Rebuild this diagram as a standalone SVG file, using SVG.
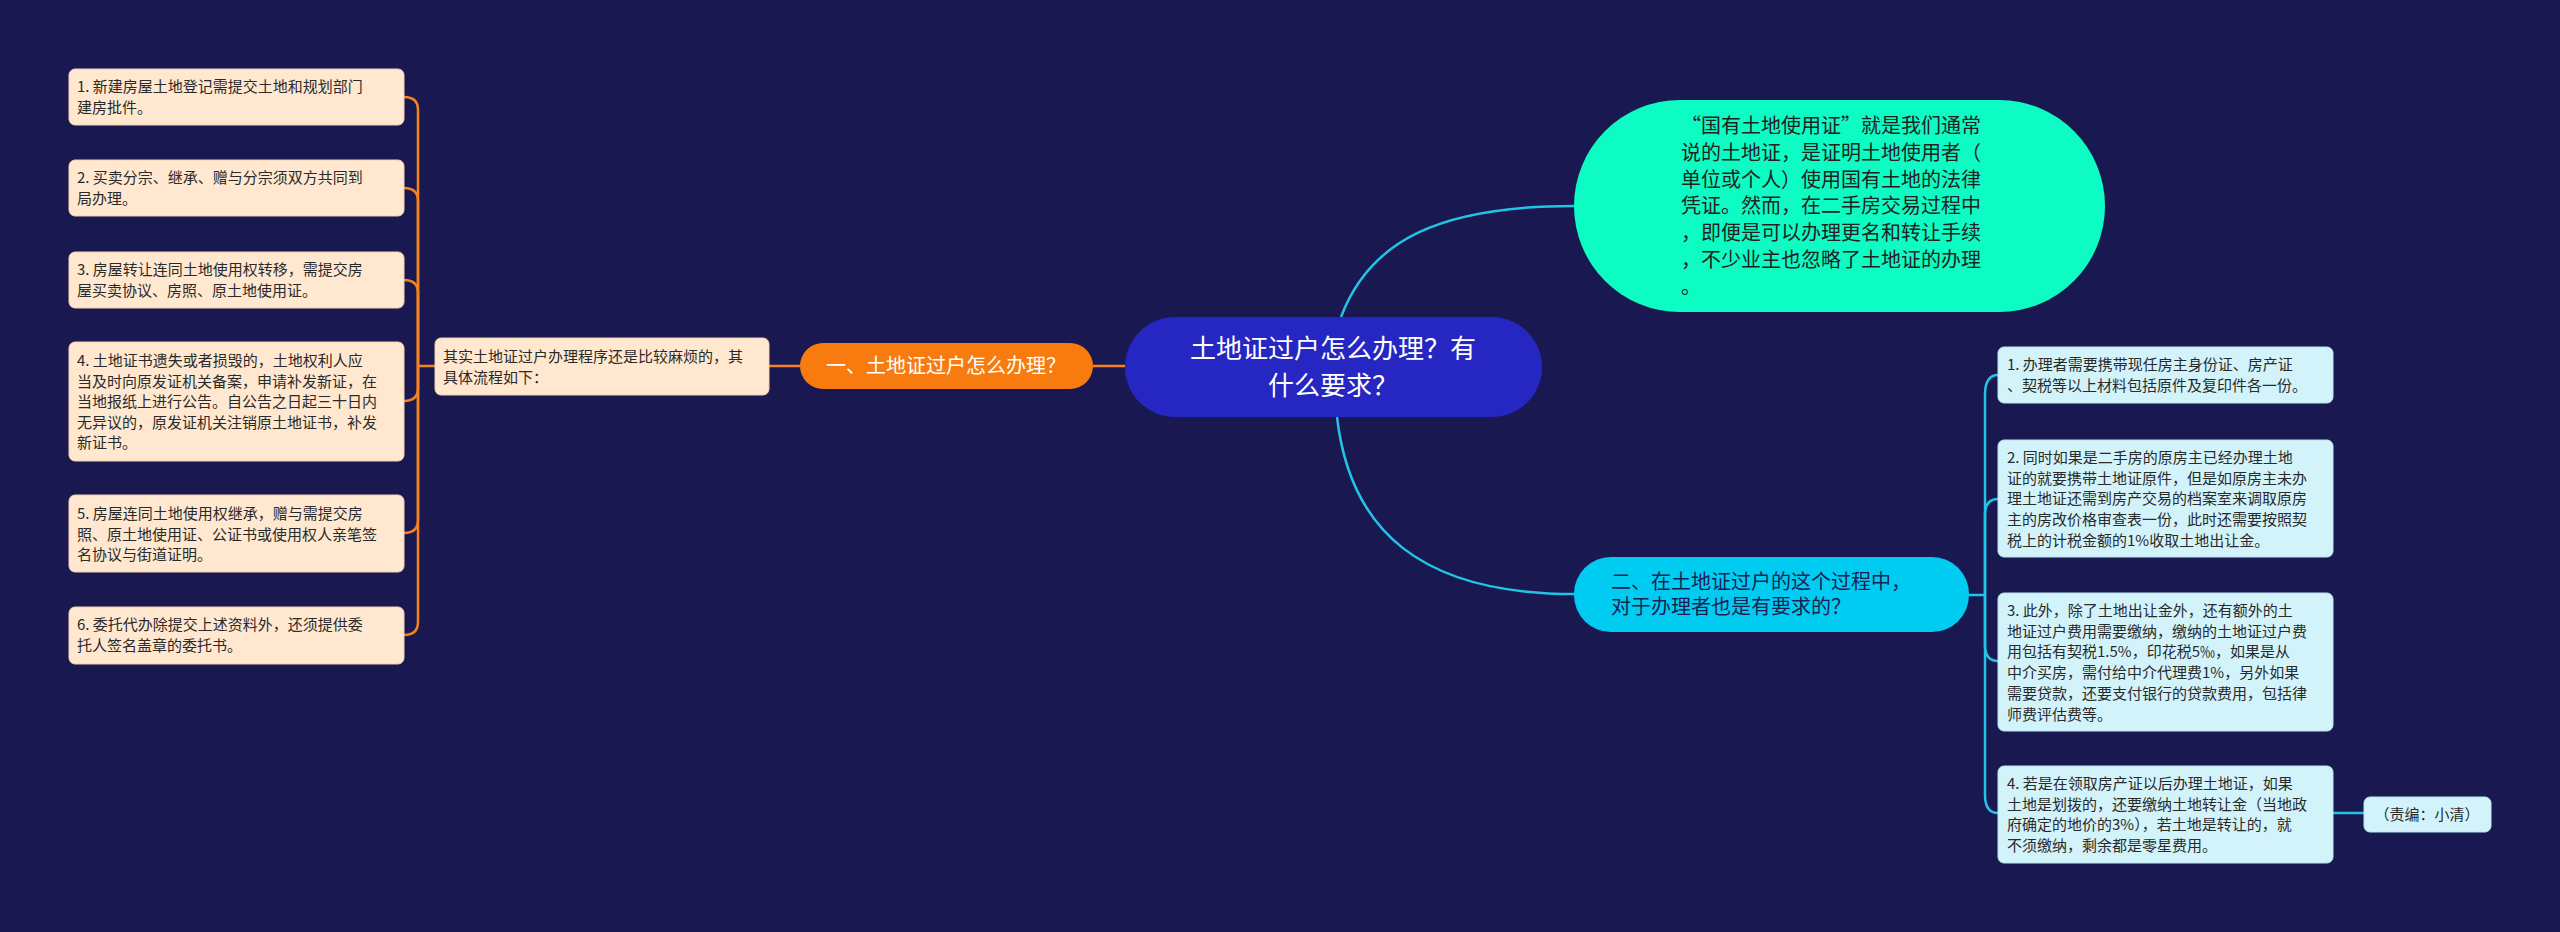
<svg xmlns="http://www.w3.org/2000/svg" width="2560" height="932" viewBox="0 0 2560 932">
<style>
text{font-family:"Noto Sans CJK SC","Noto Sans",sans-serif}
.lb{fill:#ffe8cf;stroke:#f2d2b0;stroke-width:1}
.rb{fill:#d3f3fb;stroke:#b8e6f2;stroke-width:1}
.t15{font-size:15px;fill:#2a2a2a}
.oc{fill:none;stroke:#f58220;stroke-width:2.5}
.bc{fill:none;stroke:#22c4e6;stroke-width:2.5}
</style>
<rect width="2560" height="932" fill="#1a1850"/>
<g id="connectors">
<path class="oc" d="M1125 366 H1093"/>
<path class="oc" d="M800 366 H769"/>
<path class="oc" d="M435 366 H418"/>
<path class="oc" d="M418 366 V110 Q418 97 404 97"/>
<path class="oc" d="M418 366 V201 Q418 188 404 188"/>
<path class="oc" d="M418 366 V293 Q418 280 404 280"/>
<path class="oc" d="M418 366 V388 Q418 401 404 401"/>
<path class="oc" d="M418 366 V520 Q418 533 404 533"/>
<path class="oc" d="M418 366 V622 Q418 635 404 635"/>
<path class="bc" d="M1341 317 C1370 240 1440 206 1574 206"/>
<path class="bc" d="M1337 417 C1350 530 1420 594 1574 594"/>
<path class="bc" d="M1969 595 H1985"/>
<path class="bc" d="M1985 595 V395 Q1985 375 1998 375"/>
<path class="bc" d="M1985 595 V515 Q1985 499 1998 499"/>
<path class="bc" d="M1985 595 V645 Q1985 661 1998 661"/>
<path class="bc" d="M1985 595 V795 Q1985 813 1998 813"/>
<path class="bc" d="M2333 813 H2364"/>
</g>
<g id="root">
<rect x="1125" y="317" width="417" height="100" rx="50" fill="#2626c2"/>
<text x="1333" y="358" font-size="26" fill="#fff" text-anchor="middle">土地证过户怎么办理？有<tspan x="1333" dy="37">什么要求？</tspan></text>
</g>
<g id="n-green">
<rect x="1574" y="100" width="531" height="212" rx="106" fill="#0cfcc4"/>
<text x="1681" y="133" font-size="20" fill="#222">“国有土地使用证”就是我们通常<tspan x="1681" dy="26.8">说的土地证，是证明土地使用者（</tspan><tspan x="1681" dy="26.8">单位或个人）使用国有土地的法律</tspan><tspan x="1681" dy="26.8">凭证。然而，在二手房交易过程中</tspan><tspan x="1681" dy="26.8">，即便是可以办理更名和转让手续</tspan><tspan x="1681" dy="26.8">，不少业主也忽略了土地证的办理</tspan><tspan x="1681" dy="26.8">。</tspan></text>
</g>
<g id="n-orange">
<rect x="800" y="343" width="293" height="46" rx="23" fill="#f77b0e"/>
<text x="946" y="373" font-size="20" fill="#fff" text-anchor="middle">一、土地证过户怎么办理？</text>
</g>
<g id="n-mid">
<rect x="435" y="338" width="334" height="57" rx="6" class="lb"/>
<text x="443" y="362" class="t15">其实土地证过户办理程序还是比较麻烦的，其<tspan x="443" dy="20.5">具体流程如下：</tspan></text>
</g>
<g id="l1"><rect x="69" y="69" width="335" height="56" rx="6" class="lb"/>
<text x="77" y="92" class="t15">1. 新建房屋土地登记需提交土地和规划部门<tspan x="77" dy="20.5">建房批件。</tspan></text></g>
<g id="l2"><rect x="69" y="160" width="335" height="56" rx="6" class="lb"/>
<text x="77" y="183" class="t15">2. 买卖分宗、继承、赠与分宗须双方共同到<tspan x="77" dy="20.5">局办理。</tspan></text></g>
<g id="l3"><rect x="69" y="252" width="335" height="56" rx="6" class="lb"/>
<text x="77" y="275" class="t15">3. 房屋转让连同土地使用权转移，需提交房<tspan x="77" dy="20.5">屋买卖协议、房照、原土地使用证。</tspan></text></g>
<g id="l4"><rect x="69" y="342" width="335" height="119" rx="6" class="lb"/>
<text x="77" y="366" class="t15">4. 土地证书遗失或者损毁的，土地权利人应<tspan x="77" dy="20.5">当及时向原发证机关备案，申请补发新证，在</tspan><tspan x="77" dy="20.5">当地报纸上进行公告。自公告之日起三十日内</tspan><tspan x="77" dy="20.5">无异议的，原发证机关注销原土地证书，补发</tspan><tspan x="77" dy="20.5">新证书。</tspan></text></g>
<g id="l5"><rect x="69" y="495" width="335" height="77" rx="6" class="lb"/>
<text x="77" y="519" class="t15">5. 房屋连同土地使用权继承，赠与需提交房<tspan x="77" dy="20.5">照、原土地使用证、公证书或使用权人亲笔签</tspan><tspan x="77" dy="20.5">名协议与街道证明。</tspan></text></g>
<g id="l6"><rect x="69" y="607" width="335" height="57" rx="6" class="lb"/>
<text x="77" y="630" class="t15">6. 委托代办除提交上述资料外，还须提供委<tspan x="77" dy="20.5">托人签名盖章的委托书。</tspan></text></g>
<g id="n-blue">
<rect x="1574" y="557" width="395" height="75" rx="37" fill="#00ccf2"/>
<text x="1611" y="589" font-size="20" fill="#1e1e50">二、在土地证过户的这个过程中，<tspan x="1611" dy="25">对于办理者也是有要求的？</tspan></text>
</g>
<g id="r1"><rect x="1998" y="347" width="335" height="56" rx="6" class="rb"/>
<text x="2007" y="370" class="t15">1. 办理者需要携带现任房主身份证、房产证<tspan x="2007" dy="20.7">、契税等以上材料包括原件及复印件各一份。</tspan></text></g>
<g id="r2"><rect x="1998" y="440" width="335" height="117" rx="6" class="rb"/>
<text x="2007" y="463" class="t15">2. 同时如果是二手房的原房主已经办理土地<tspan x="2007" dy="20.7">证的就要携带土地证原件，但是如原房主未办</tspan><tspan x="2007" dy="20.7">理土地证还需到房产交易的档案室来调取原房</tspan><tspan x="2007" dy="20.7">主的房改价格审查表一份，此时还需要按照契</tspan><tspan x="2007" dy="20.7">税上的计税金额的1%收取土地出让金。</tspan></text></g>
<g id="r3"><rect x="1998" y="593" width="335" height="138" rx="6" class="rb"/>
<text x="2007" y="616" class="t15">3. 此外，除了土地出让金外，还有额外的土<tspan x="2007" dy="20.7">地证过户费用需要缴纳，缴纳的土地证过户费</tspan><tspan x="2007" dy="20.7">用包括有契税1.5%，印花税5‰，如果是从</tspan><tspan x="2007" dy="20.7">中介买房，需付给中介代理费1%，另外如果</tspan><tspan x="2007" dy="20.7">需要贷款，还要支付银行的贷款费用，包括律</tspan><tspan x="2007" dy="20.7">师费评估费等。</tspan></text></g>
<g id="r4"><rect x="1998" y="766" width="335" height="97" rx="6" class="rb"/>
<text x="2007" y="789" class="t15">4. 若是在领取房产证以后办理土地证，如果<tspan x="2007" dy="20.7">土地是划拨的，还要缴纳土地转让金（当地政</tspan><tspan x="2007" dy="20.7">府确定的地价的3%），若土地是转让的，就</tspan><tspan x="2007" dy="20.7">不须缴纳，剩余都是零星费用。</tspan></text></g>
<g id="r5"><rect x="2364" y="797" width="127" height="35" rx="6" class="rb"/>
<text x="2427" y="820" class="t15" text-anchor="middle">（责编：小清）</text></g>
</svg>
